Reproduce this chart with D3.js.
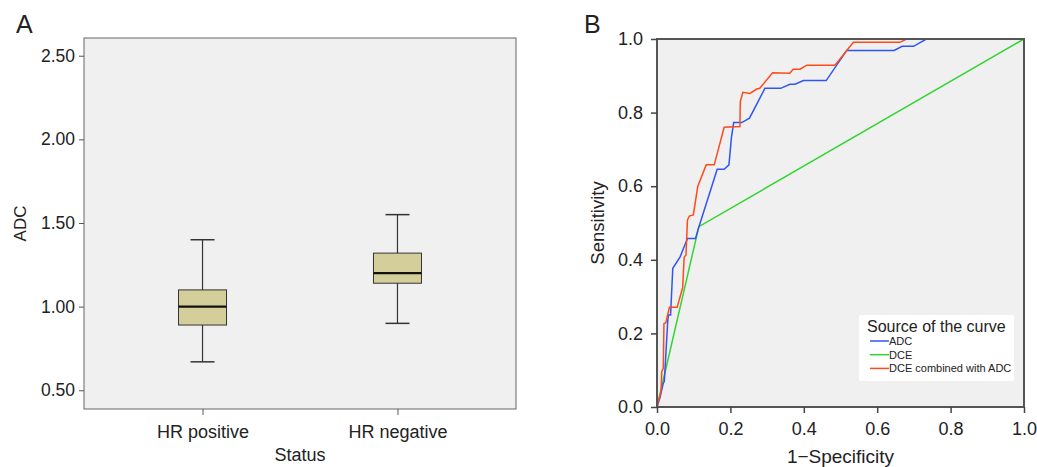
<!DOCTYPE html>
<html>
<head>
<meta charset="utf-8">
<script src="https://cdn.jsdelivr.net/npm/d3@7"></script>
<style>
  body { margin: 0; background: #fff; }
  svg text { font-family: "Liberation Sans", Arial, sans-serif; fill: #222; }
</style>
</head>
<body>
<svg id="chart" width="1037" height="467"></svg>
<script>
// panel A data (box plot of ADC by HR status)
const categories = ["HR positive", "HR negative"];
const boxMin    = [0.67, 0.90];
const boxQ1     = [0.89, 1.14];
const boxMedian = [1.00, 1.20];
const boxQ3     = [1.10, 1.32];
const boxMax    = [1.40, 1.55];
const adcTicks  = [0.5, 1.0, 1.5, 2.0, 2.5];

// panel B data (ROC curves, [1-specificity, sensitivity])
const rocTicks = [0, 0.2, 0.4, 0.6, 0.8, 1.0];
const rocAdc = [[0,0],[0.008,0.025],[0.017,0.064],[0.020,0.07],[0.029,0.23],[0.031,0.25],[0.037,0.25],
  [0.043,0.377],[0.063,0.408],[0.083,0.458],[0.105,0.458],[0.113,0.486],[0.164,0.646],[0.183,0.646],
  [0.196,0.658],[0.203,0.734],[0.209,0.773],[0.231,0.773],[0.252,0.785],[0.294,0.866],[0.337,0.866],
  [0.362,0.877],[0.376,0.877],[0.399,0.887],[0.461,0.887],[0.517,0.969],[0.646,0.969],[0.668,0.980],
  [0.699,0.980],[0.734,1.0],[1,1]];
const rocDce = [[0,0],[0.114,0.49],[1,1]];
const rocCombined = [[0,0],[0.005,0.02],[0.011,0.042],[0.013,0.096],[0.017,0.105],[0.019,0.227],
  [0.024,0.229],[0.034,0.271],[0.055,0.271],[0.070,0.325],[0.074,0.407],[0.079,0.413],[0.083,0.508],
  [0.088,0.519],[0.099,0.522],[0.111,0.599],[0.134,0.658],[0.156,0.658],[0.183,0.760],[0.226,0.762],
  [0.227,0.830],[0.234,0.855],[0.253,0.852],[0.272,0.864],[0.280,0.866],[0.315,0.908],[0.362,0.907],
  [0.371,0.918],[0.390,0.918],[0.408,0.929],[0.485,0.929],[0.535,0.991],[0.662,0.991],[0.680,1.0],[1,1]];
const seriesNames = ["ADC", "DCE", "DCE combined with ADC"];
const seriesColors = ["#2f55f5", "#33d433", "#ff4a1c"];

const svg = d3.select("#chart");

// ── A: box plot ──
const A = {left: 84, right: 516, top: 38, bottom: 409};

const y = d3.scaleLinear()
    .domain([0.388, 2.606])
    .range([A.bottom, A.top]);

const x = d3.scalePoint()
    .domain(categories)
    .range([A.left, A.right])
    .padding(0.608);

svg.append("rect")
    .attr("x", A.left).attr("y", A.top)
    .attr("width", A.right - A.left).attr("height", A.bottom - A.top)
    .attr("fill", "#f0f0f0")
    .attr("stroke", "#666").attr("stroke-width", 1);

const yAxA = svg.append("g")
    .attr("transform", `translate(${A.left},0)`)
    .call(d3.axisLeft(y).tickValues(adcTicks).tickFormat(d3.format(".2f")).tickSize(5).tickPadding(4));
yAxA.select(".domain").remove();
yAxA.selectAll("line").attr("stroke", "#555");
yAxA.selectAll("text").style("font-size", "17.5px").attr("fill", "#222");

const xAxA = svg.append("g")
    .attr("transform", `translate(0,${A.bottom})`)
    .call(d3.axisBottom(x).tickSize(6).tickPadding(10));
xAxA.select(".domain").remove();
xAxA.selectAll("line").attr("stroke", "#555");
xAxA.selectAll("text").style("font-size", "18px").attr("fill", "#222");

const boxW = 48, capW = 24;
const boxes = svg.append("g").selectAll("g")
  .data(categories).enter().append("g");

boxes.append("line")
    .attr("x1", d => x(d)).attr("x2", d => x(d))
    .attr("y1", (d, i) => y(boxMin[i])).attr("y2", (d, i) => y(boxMax[i]))
    .attr("stroke", "#333").attr("stroke-width", 1.2);
boxes.append("line")
    .attr("x1", d => x(d) - capW / 2).attr("x2", d => x(d) + capW / 2)
    .attr("y1", (d, i) => y(boxMax[i])).attr("y2", (d, i) => y(boxMax[i]))
    .attr("stroke", "#333").attr("stroke-width", 1.5);
boxes.append("line")
    .attr("x1", d => x(d) - capW / 2).attr("x2", d => x(d) + capW / 2)
    .attr("y1", (d, i) => y(boxMin[i])).attr("y2", (d, i) => y(boxMin[i]))
    .attr("stroke", "#333").attr("stroke-width", 1.5);
boxes.append("rect")
    .attr("x", d => x(d) - boxW / 2)
    .attr("y", (d, i) => y(boxQ3[i]))
    .attr("width", boxW)
    .attr("height", (d, i) => y(boxQ1[i]) - y(boxQ3[i]))
    .attr("fill", "#d4cf9a")
    .attr("stroke", "#333").attr("stroke-width", 1);
boxes.append("line")
    .attr("x1", d => x(d) - boxW / 2).attr("x2", d => x(d) + boxW / 2)
    .attr("y1", (d, i) => y(boxMedian[i])).attr("y2", (d, i) => y(boxMedian[i]))
    .attr("stroke", "#111").attr("stroke-width", 2.2);

svg.append("text").attr("x", 16).attr("y", 33)
    .style("font-size", "25px").text("A");
svg.append("text")
    .attr("transform", `translate(26,${(A.top + A.bottom) / 2}) rotate(-90)`)
    .attr("text-anchor", "middle")
    .style("font-size", "17px").text("ADC");
svg.append("text")
    .attr("x", (A.left + A.right) / 2).attr("y", 461)
    .attr("text-anchor", "middle")
    .style("font-size", "18px").text("Status");

// ── B: ROC curves ──
const B = {left: 657, right: 1024, top: 39, bottom: 407};

const fx = d3.scaleLinear().domain([0, 1]).range([B.left, B.right]);
const fy = d3.scaleLinear().domain([0, 1]).range([B.bottom, B.top]);

svg.append("rect")
    .attr("x", B.left).attr("y", B.top)
    .attr("width", B.right - B.left).attr("height", B.bottom - B.top)
    .attr("fill", "#f0f0f0");

const line = d3.line().x(d => fx(d[0])).y(d => fy(d[1]));
[rocDce, rocAdc, rocCombined].forEach((s, i) => {
  const idx = [1, 0, 2][i];
  svg.append("path")
      .attr("d", line(s))
      .attr("fill", "none")
      .attr("stroke", seriesColors[idx])
      .attr("stroke-width", 1.5);
});

svg.append("rect")
    .attr("x", B.left).attr("y", B.top)
    .attr("width", B.right - B.left).attr("height", B.bottom - B.top)
    .attr("fill", "none")
    .attr("stroke", "#555").attr("stroke-width", 2);

const yAxB = svg.append("g")
    .attr("transform", `translate(${B.left},0)`)
    .call(d3.axisLeft(fy).tickValues(rocTicks).tickFormat(d3.format(".1f")).tickSize(6).tickPadding(8));
yAxB.select(".domain").remove();
yAxB.selectAll("line").attr("stroke", "#444").attr("stroke-width", 1.5);
yAxB.selectAll("text").style("font-size", "18px").attr("fill", "#222");

const xAxB = svg.append("g")
    .attr("transform", `translate(0,${B.bottom})`)
    .call(d3.axisBottom(fx).tickValues(rocTicks).tickFormat(d3.format(".1f")).tickSize(6).tickPadding(9));
xAxB.select(".domain").remove();
xAxB.selectAll("line").attr("stroke", "#444").attr("stroke-width", 1.5);
xAxB.selectAll("text").style("font-size", "18px").attr("fill", "#222");

svg.append("text").attr("x", 584).attr("y", 33)
    .style("font-size", "25px").text("B");
svg.append("text")
    .attr("transform", `translate(604,${(B.top + B.bottom) / 2}) rotate(-90)`)
    .attr("text-anchor", "middle")
    .style("font-size", "18.5px").text("Sensitivity");
svg.append("text")
    .attr("x", (B.left + B.right) / 2).attr("y", 463)
    .attr("text-anchor", "middle")
    .style("font-size", "19px").text("1\u2212Specificity");

// legend
const legend = svg.append("g").attr("transform", "translate(859,315)");
legend.append("rect")
    .attr("width", 155).attr("height", 66)
    .attr("fill", "#fff");
legend.append("text")
    .attr("x", 8).attr("y", 17)
    .style("font-size", "16px").text("Source of the curve");
seriesNames.forEach((name, i) => {
  const row = legend.append("g").attr("transform", `translate(0,${26 + i * 13.7})`);
  row.append("line")
      .attr("x1", 11).attr("x2", 30)
      .attr("stroke", seriesColors[i]).attr("stroke-width", 1.5);
  row.append("text")
      .attr("x", 30).attr("y", 4)
      .style("font-size", "11px").text(name);
});
</script>
</body>
</html>
